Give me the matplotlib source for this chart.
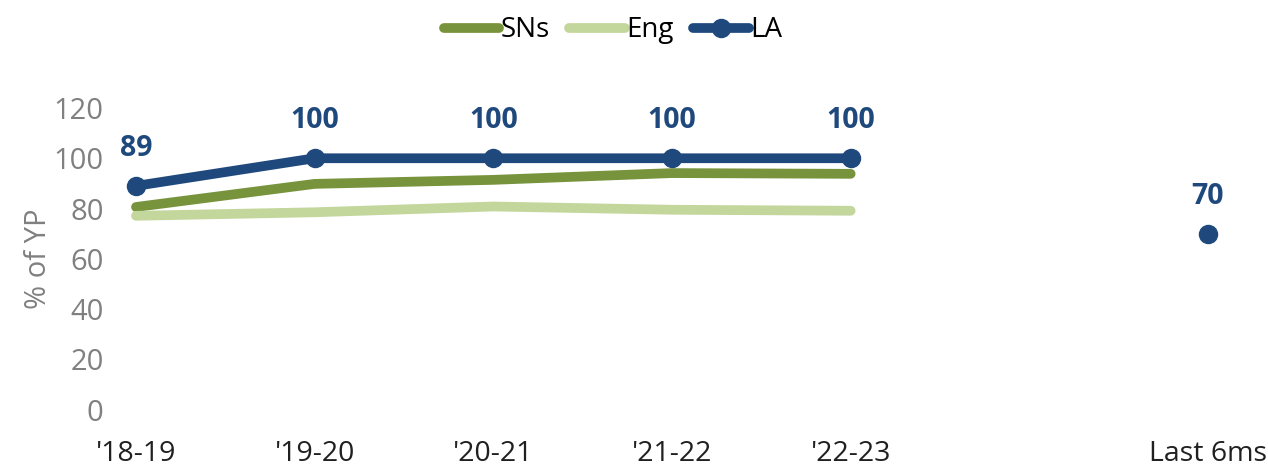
import numpy as np
import matplotlib.pyplot as plt

plt.rcParams['font.family'] = ['Open Sans', 'DejaVu Sans']

categories = ["'18-19", "'19-20", "'20-21", "'21-22", "'22-23", "", "Last 6ms"]
sns_vals = [80.6, 89.8, 91.4, 94.1, 93.8, np.nan, np.nan]
eng_vals = [77.1, 78.5, 80.8, 79.5, 79.1, np.nan, np.nan]
la_vals = [89, 100, 100, 100, 100, np.nan, 70]
la_labels = ['89', '100', '100', '100', '100', '', '70']

c_sns = '#77933C'
c_eng = '#C3D69B'
c_la = '#1F497D'
grey = '#808080'

fig = plt.figure(figsize=(12.68, 4.69), dpi=100)
left = 116
ax = fig.add_axes([left/1268, (469-409.5)/469, 1-left/1268, (409.5-108)/469])

x = np.arange(len(categories))
ax.plot(x, sns_vals, color=c_sns, lw=7, solid_capstyle='round', label='SNs')
ax.plot(x, eng_vals, color=c_eng, lw=7, solid_capstyle='round', label='Eng')
ax.plot(x, la_vals, color=c_la, lw=7, marker='o', ms=13, solid_capstyle='round', label='LA')

for xi, v, t in zip(x, la_vals, la_labels):
    if t:
        ax.annotate(t, (xi, v), xytext=(0, 27), textcoords='offset points',
                    ha='center', va='center', fontsize=20.5, fontweight='bold', color=c_la)

px = 1072/6
ax.set_xlim((left - 136)/px, 6 + 60/px)
ax.set_ylim(0, 120)
ax.set_yticks(range(0, 121, 20))
ax.set_xticks(x)
ax.set_xticklabels(categories)
ax.tick_params(axis='y', length=0, labelsize=21, labelcolor=grey, pad=9)
ax.tick_params(axis='x', length=0, labelsize=20.5, labelcolor='#202020', pad=22)
for s in ax.spines.values():
    s.set_visible(False)
ax.set_ylabel('% of YP', fontsize=21, color=grey, labelpad=0)

fig.legend(loc='upper center', bbox_to_anchor=(613/1268, 0.995), ncol=3, frameon=False,
           fontsize=20, handlelength=2.0, handletextpad=0.05, columnspacing=0.7,
           borderaxespad=0.1)

fig.savefig('out.png', dpi=100)
